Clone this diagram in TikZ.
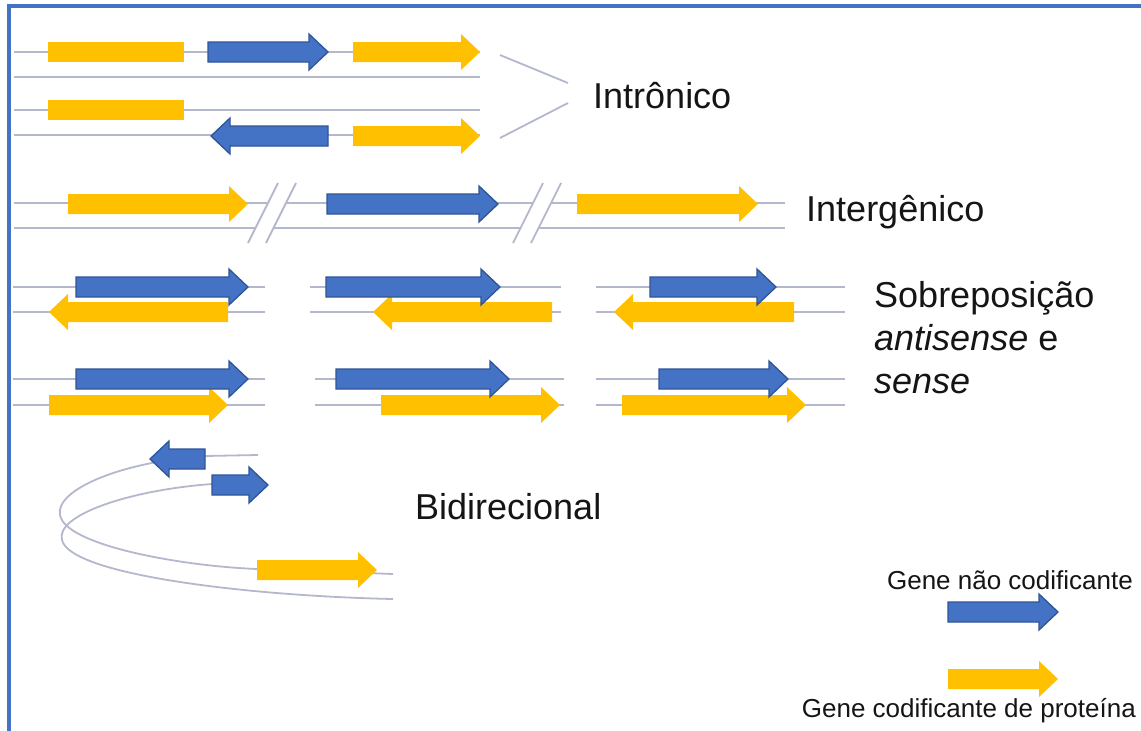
\documentclass[tikz,border=0pt]{standalone}
\usepackage{fontspec}
\setmainfont{Liberation Sans}
\definecolor{bfill}{HTML}{4472C4}
\definecolor{bedge}{HTML}{2F5597}
\definecolor{yfill}{HTML}{FFC000}
\definecolor{gline}{HTML}{B4B8CC}
\definecolor{frm}{HTML}{4472C4}
\definecolor{txt}{HTML}{151515}
\newcommand{\gaR}[4]{\path[#1] (#2,#4-10) -- (#3-19,#4-10) -- (#3-19,#4-18) -- (#3,#4) -- (#3-19,#4+18) -- (#3-19,#4+10) -- (#2,#4+10) -- cycle;}
\newcommand{\gaL}[4]{\path[#1] (#3,#4-10) -- (#2+19,#4-10) -- (#2+19,#4-18) -- (#2,#4) -- (#2+19,#4+18) -- (#2+19,#4+10) -- (#3,#4+10) -- cycle;}
\newcommand{\gbrk}[1]{\fill[white] (#1-24,243) -- (#1+6,183) -- (#1+24,183) -- (#1-6,243) -- cycle;
  \draw[glthin] (#1-24,243) -- (#1+6,183); \draw[glthin] (#1-6,243) -- (#1+24,183);}
\begin{document}
\begin{tikzpicture}[x=1pt,y=-1pt,
  ncgene/.style={fill=bfill,draw=bedge,line width=1.3pt,line join=miter},
  pcgene/.style={fill=yfill},
  gl/.style={draw=gline,line width=2.8pt},
  glthin/.style={draw=gline,line width=1.8pt},
  lbl/.style={text=txt,font=\fontsize{36}{43}\selectfont,inner sep=0pt,anchor=west,align=left},
  leg/.style={text=txt,font=\fontsize{26}{30}\selectfont,inner sep=0pt,anchor=east}]
\useasboundingbox (0,0) rectangle (1141,731);
\fill[white] (0,0) rectangle (1141,731);
% frame
\draw[frm,line width=4.5pt] (9,731) -- (9,6) -- (1141,6);
% ---- Intronico
\draw[gl] (14,52) -- (480,52); \draw[gl] (14,77) -- (480,77);
\draw[gl] (14,110) -- (480,110); \draw[gl] (14,135) -- (480,135);
\fill[pcgene] (48,42) rectangle (184,62);
\gaR{ncgene}{208}{328}{52}
\gaR{pcgene}{353}{480}{52}
\fill[pcgene] (48,100) rectangle (184,120);
\gaL{ncgene}{211}{328}{136}
\gaR{pcgene}{353}{480}{136}
\node[lbl] (intr) at (593,96) {Intrônico};
\coordinate (c1) at (500,55); \coordinate (c2) at (500,138);
\draw[glthin] (c1) -- (568,83); \draw[glthin] (c2) -- (568,103);
% ---- Intergenico
\draw[gl] (14,203) -- (785,203); \draw[gl] (14,228) -- (785,228);
\gbrk{272}
\gbrk{537}
\gaR{pcgene}{68}{248}{204}
\gaR{ncgene}{327}{498}{204}
\gaR{pcgene}{577}{758}{204}
\node[lbl] (inter) at (806,212) {Intergênico};
% ---- Sobreposicao antisense
\foreach \a/\b in {13/265,310/561,596/845}{\draw[gl] (\a,287) -- (\b,287); \draw[gl] (\a,312) -- (\b,312);}
\gaL{pcgene}{49}{228}{312}
\gaR{ncgene}{76}{248}{287}
\gaL{pcgene}{373}{552}{312}
\gaR{ncgene}{326}{500}{287}
\gaL{pcgene}{614}{794}{312}
\gaR{ncgene}{650}{776}{287}
% ---- sense
\foreach \a/\b in {13/265,315/564,596/845}{\draw[gl] (\a,379) -- (\b,379); \draw[gl] (\a,405) -- (\b,405);}
\gaR{pcgene}{49}{228}{405}
\gaR{ncgene}{76}{248}{379}
\gaR{pcgene}{381}{560}{405}
\gaR{ncgene}{336}{509}{379}
\gaR{pcgene}{622}{806}{405}
\gaR{ncgene}{659}{788}{379}
\node[lbl,anchor=north west] (sobre) at (874,281) {Sobreposição\\\textit{antisense} e\\\textit{sense}};
% ---- Bidirecional
\draw[glthin] (258,455) -- (205,456) .. controls (120,462) and (55,490) .. (60,515) .. controls (65,545) and (180,566) .. (257,569) -- (393,574);
\draw[glthin] (212,484) .. controls (130,490) and (55,515) .. (62,540) .. controls (70,575) and (250,596) .. (393,599);
\gaL{ncgene}{150}{205}{459}
\gaR{ncgene}{212}{268}{485}
\gaR{pcgene}{257}{377}{570}
\node[lbl] (bidi) at (415,507) {Bidirecional};
% ---- legend
\node[leg] (lnc) at (1133,580) {Gene não codificante};
\gaR{ncgene}{948}{1058}{612}
\gaR{pcgene}{948}{1058}{679}
\node[leg] (lpc) at (1136,711) {Gene codificante de proteína};
\end{tikzpicture}
\end{document}
